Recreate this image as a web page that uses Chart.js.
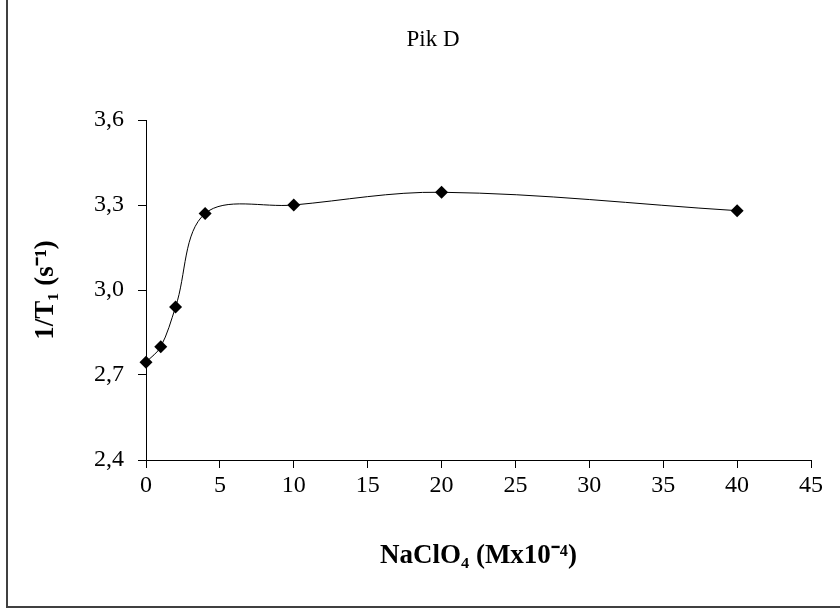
<!DOCTYPE html>
<html>
<head>
<meta charset="utf-8">
<title>Pik D</title>
<script src="https://cdn.jsdelivr.net/npm/chart.js@4.4.1/dist/chart.umd.min.js"></script>
<style>
  body { margin: 0; background: #fff; }
  #wrap { position: relative; width: 840px; height: 609px; }
  #frame {
    position: absolute; left: 6px; top: 0; width: 834px; height: 608px;
    box-sizing: border-box;
    border-left: 2px solid #404040;
    border-bottom: 2px solid #404040;
    pointer-events: none;
  }
  canvas { position: absolute; left: 0; top: 0; }
</style>
</head>
<body>
<div id="wrap">
  <canvas id="myChart" width="840" height="609"></canvas>
  <div id="frame"></div>
</div>
<script>
// values
var titleText = 'Pik D';
var xTitle = 'NaClO\u2084 (Mx10\u207B\u2074)';
var yTitle = '1/T\u2081 (s\u207B\u00B9)';
var concentration = [0, 1, 2, 4, 10, 20, 40];
var rate = [2.745, 2.80, 2.94, 3.27, 3.30, 3.345, 3.28];

var serif = "'Times New Roman', 'Liberation Serif', serif";

var points = [];
for (let i = 0; i < concentration.length; i++) {
  points.push({ x: concentration[i], y: rate[i] });
}

// chart title is not centred on the canvas in the original, so draw it by hand
const titlePlugin = {
  id: 'pikTitle',
  afterDraw(chart) {
    const ctx = chart.ctx;
    ctx.save();
    ctx.font = '23px ' + serif;
    ctx.fillStyle = '#000';
    ctx.textAlign = 'center';
    ctx.textBaseline = 'middle';
    ctx.fillText(titleText, 433, 40);
    ctx.restore();
  }
};

const ctx = document.getElementById('myChart').getContext('2d');
const myChart = new Chart(ctx, {
  type: 'line',
  data: {
    datasets: [{
      data: points,
      borderColor: '#000',
      borderWidth: 1,
      backgroundColor: '#000',
      pointStyle: 'rectRot',
      pointRadius: 6.5,
      pointBackgroundColor: '#000',
      pointBorderColor: '#000',
      pointBorderWidth: 0,
      tension: 0.35,
      fill: false,
      clip: false
    }]
  },
  options: {
    responsive: false,
    animation: false,
    events: [],
    layout: { padding: { left: 30, right: 29, top: 120, bottom: 37 } },
    plugins: {
      legend: { display: false },
      tooltip: { enabled: false }
    },
    scales: {
      x: {
        type: 'linear',
        min: 0,
        max: 45,
        afterFit: function(scale) { scale.height = 112; },
        border: { display: true, color: '#000', width: 1 },
        grid: { drawOnChartArea: false, drawTicks: true, tickLength: 8, color: '#000' },
        ticks: {
          stepSize: 5,
          color: '#000',
          padding: 3,
          maxRotation: 0,
          font: { family: serif, size: 24 }
        },
        title: {
          display: true,
          text: xTitle,
          color: '#000',
          padding: 0,
          font: { family: serif, size: 27, weight: 'bold' }
        }
      },
      y: {
        min: 2.4,
        max: 3.6,
        afterFit: function(scale) { scale.width = 116; },
        border: { display: true, color: '#000', width: 1 },
        grid: { drawOnChartArea: false, drawTicks: true, tickLength: 8, color: '#000' },
        ticks: {
          stepSize: 0.3,
          color: '#000',
          padding: 14,
          font: { family: serif, size: 24 },
          callback: function(v) { return v.toFixed(1).replace('.', ','); }
        },
        title: {
          display: true,
          text: yTitle,
          color: '#000',
          padding: 0,
          font: { family: serif, size: 27, weight: 'bold' }
        }
      }
    }
  },
  plugins: [titlePlugin]
});
</script>
</body>
</html>
